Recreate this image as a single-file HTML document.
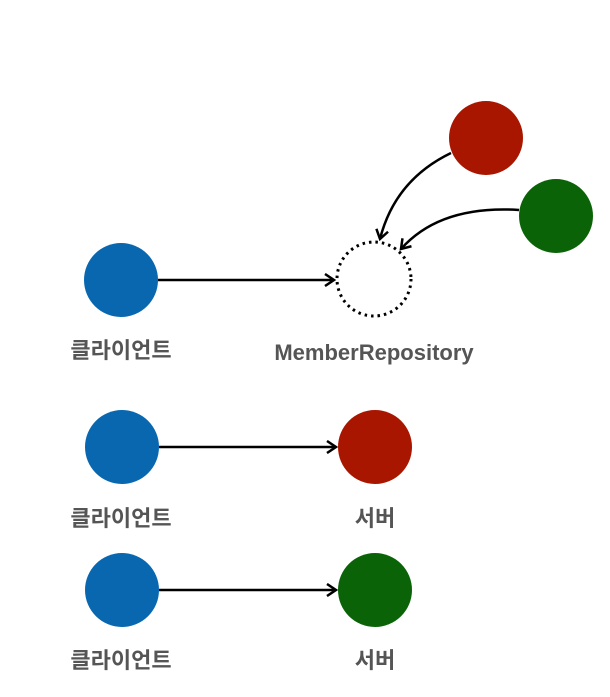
<!DOCTYPE html>
<html><head><meta charset="utf-8"><style>
html,body{margin:0;padding:0;background:#fff;width:610px;height:697px;overflow:hidden}
svg text{font-family:"Liberation Sans","Noto Sans CJK KR",sans-serif;font-weight:bold;fill:#555;font-size:22px}
</style></head><body>
<svg width="610" height="697" xmlns="http://www.w3.org/2000/svg">
<defs><marker id="a" markerWidth="14" markerHeight="14" refX="11" refY="7" orient="auto" markerUnits="userSpaceOnUse">
<path d="M2,1 L11,7 L2,13" fill="none" stroke="#000" stroke-width="2.5"/></marker></defs>
<circle cx="121" cy="280" r="37" fill="#0967b0"/>
<circle cx="374" cy="279" r="37" fill="none" stroke="#000" stroke-width="3" stroke-dasharray="2.5,4"/>
<circle cx="486" cy="138" r="37" fill="#a81600"/>
<circle cx="556" cy="216" r="37" fill="#0b6308"/>
<line x1="158" y1="280" x2="334" y2="280" stroke="#000" stroke-width="2.5" marker-end="url(#a)"/>
<path d="M451,153 Q395,180 380,239" fill="none" stroke="#000" stroke-width="2.5" marker-end="url(#a)"/>
<path d="M519,210 Q440,205 401,249" fill="none" stroke="#000" stroke-width="2.5" marker-end="url(#a)"/>
<text x="121" y="358" text-anchor="middle">클라이언트</text>
<text x="374" y="360" text-anchor="middle">MemberRepository</text>
<circle cx="122" cy="447" r="37" fill="#0967b0"/>
<circle cx="375" cy="447" r="37" fill="#a81600"/>
<line x1="159" y1="447" x2="336" y2="447" stroke="#000" stroke-width="2.5" marker-end="url(#a)"/>
<text x="121" y="526" text-anchor="middle">클라이언트</text>
<text x="375" y="526" text-anchor="middle">서버</text>
<circle cx="122" cy="590" r="37" fill="#0967b0"/>
<circle cx="375" cy="590" r="37" fill="#0b6308"/>
<line x1="159" y1="590" x2="336" y2="590" stroke="#000" stroke-width="2.5" marker-end="url(#a)"/>
<text x="121" y="668" text-anchor="middle">클라이언트</text>
<text x="375" y="668" text-anchor="middle">서버</text>
</svg>
</body></html>
